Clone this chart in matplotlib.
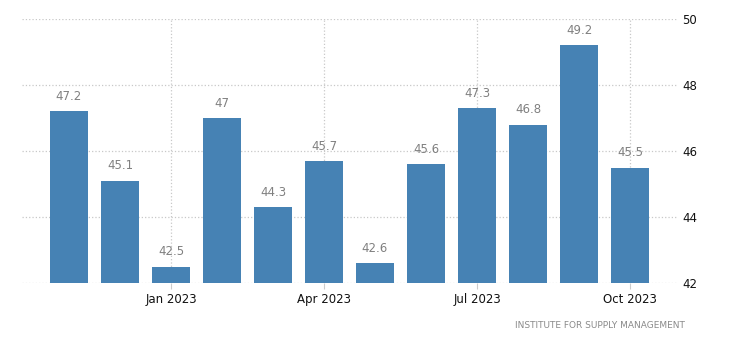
import matplotlib.pyplot as plt

# ISM manufacturing PMI, Nov 2022 - Oct 2023
months = ['Nov 2022', 'Dec 2022', 'Jan 2023', 'Feb 2023', 'Mar 2023', 'Apr 2023',
          'May 2023', 'Jun 2023', 'Jul 2023', 'Aug 2023', 'Sep 2023', 'Oct 2023']
values = [47.2, 45.1, 42.5, 47, 44.3, 45.7, 42.6, 45.6, 47.3, 46.8, 49.2, 45.5]
value_labels = ['47.2', '45.1', '42.5', '47', '44.3', '45.7', '42.6', '45.6', '47.3', '46.8', '49.2', '45.5']
tick_months = ['Jan 2023', 'Apr 2023', 'Jul 2023', 'Oct 2023']
y_ticks = [42, 44, 46, 48, 50]

fig = plt.figure(figsize=(7.31, 3.49), dpi=100)
ax = fig.add_axes([22/731, 1 - 283/349, (678-22)/731, (283-19)/349])

x = list(range(len(months)))
ax.bar(x, [v - 42 for v in values], bottom=42, width=0.74, color='#4682b4', zorder=2)

for xi, v, lab in zip(x, values, value_labels):
    ax.text(xi, v + 0.25, lab, ha='center', va='bottom', fontsize=8.5, color='#808080')

ax.set_ylim(42, 50)
ax.set_xlim(-0.92, 11.94)
ax.set_yticks(y_ticks)
ax.yaxis.tick_right()
ax.set_xticks([months.index(m) for m in tick_months])
ax.set_xticklabels(tick_months)
ax.tick_params(axis='y', length=0, labelsize=8.5, colors='#111111', pad=3)
ax.tick_params(axis='x', length=4, color='#cccccc', labelsize=8.5, labelcolor='#111111', pad=3)
ax.grid(True, linestyle=':', color='#c8c8c8', linewidth=0.9, zorder=0)
for s in ax.spines.values():
    s.set_visible(False)

fig.text(685/731, 1 - 325/349, 'INSTITUTE FOR SUPPLY MANAGEMENT', ha='right', va='center',
         fontsize=6.5, color='#8a8a8a')

fig.savefig('out.png', dpi=100)
